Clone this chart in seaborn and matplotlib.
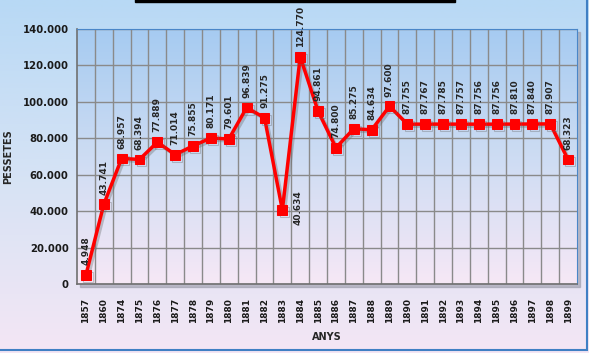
import numpy as np
import matplotlib
matplotlib.use('Agg')
import matplotlib.pyplot as plt
import matplotlib.patheffects as pe
from matplotlib.colors import LinearSegmentedColormap
from matplotlib.patches import Rectangle
from matplotlib.ticker import FuncFormatter, MultipleLocator
import seaborn as sns

anys = ['1857', '1860', '1874', '1875', '1876', '1877', '1878', '1879', '1880',
        '1881', '1882', '1883', '1884', '1885', '1886', '1887', '1888', '1889',
        '1890', '1891', '1892', '1893', '1894', '1895', '1896', '1897', '1898', '1899']
pessetes = [4948, 43741, 68957, 68394, 77889, 71014, 75855, 80171, 79601,
            96839, 91275, 40634, 124770, 94861, 74800, 85275, 84634, 97600,
            87755, 87767, 87785, 87757, 87756, 87756, 87810, 87840, 87907, 68323]

sns.set_style('white')
plt.rcParams['font.family'] = ['DejaVu Sans']


def fmt(v):
    return f'{int(v):,}'.replace(',', '.')


fig = plt.figure(figsize=(5.89, 3.53), dpi=100)

# background gradient of the whole figure
bg = fig.add_axes([0, 0, 1, 1], zorder=-10)
bg_cmap = LinearSegmentedColormap.from_list('bg', ['#b8d9f5', '#d6e3f5', '#f4e6f4'])
bg.imshow(np.linspace(0, 1, 256).reshape(-1, 1), aspect='auto', cmap=bg_cmap,
          extent=[0, 1, 0, 1], origin='upper')
bg.set_axis_off()
bg.add_patch(Rectangle((-0.01, 3 / 353), 587 / 589 + 0.01, 1.02, fill=False,
                       edgecolor='#3f7fc4', linewidth=1.5, transform=bg.transAxes))
bg.add_patch(Rectangle((135 / 589, 351.5 / 353), 320 / 589, 0.02, color='black',
                       transform=bg.transAxes))

left, bottom, w, h = 77 / 589, 69 / 353, 500 / 589, 255 / 353
# plot area shadow
fig.patches.append(Rectangle((left + 3 / 589, bottom - 3 / 353), w, h, color='#9a9aa8',
                             alpha=0.6, transform=fig.transFigure, zorder=-5))
ax = fig.add_axes([left, bottom, w, h])

pa_cmap = LinearSegmentedColormap.from_list('pa', ['#a6cbf1', '#cddcf3', '#f6e8f6'])
ax.imshow(np.linspace(0, 1, 256).reshape(-1, 1), aspect='auto', cmap=pa_cmap,
          extent=[0, 1, 0, 1], origin='upper', transform=ax.transAxes, zorder=0)

x = np.arange(len(anys))
sns.lineplot(x=x, y=pessetes, ax=ax, color='#ff0000', linewidth=2.5, marker='s',
             markersize=7, markeredgecolor='#ff0000', zorder=5, clip_on=False,
             path_effects=[pe.SimpleLineShadow(offset=(1.5, -1.5), shadow_color='#666666', alpha=0.35),
                           pe.Normal()])

for i, v in enumerate(pessetes):
    if anys[i] == '1883':
        ax.annotate(fmt(v), (i, v), xytext=(8, 2), textcoords='offset points',
                    rotation=90, ha='left', va='center', fontsize=6.5, fontweight='bold', zorder=6)
    else:
        ax.annotate(fmt(v), (i, v), xytext=(0, 7), textcoords='offset points',
                    rotation=90, ha='center', va='bottom', fontsize=6.5, fontweight='bold', zorder=6)

ax.set_xlim(-0.5, len(anys) - 0.5)
ax.set_ylim(0, 140000)
ax.set_xticks(x)
ax.set_xticklabels(anys, rotation=90, fontsize=6.5, fontweight='bold')
ax.set_xticks(x[:-1] + 0.5, minor=True)
ax.yaxis.set_major_locator(MultipleLocator(20000))
ax.yaxis.set_major_formatter(FuncFormatter(lambda v, p: fmt(v)))
for lab in ax.get_yticklabels():
    lab.set_fontweight('bold')
    lab.set_fontsize(7.3)

ax.grid(True, which='major', axis='y', color='#8a8a8a', linewidth=1)
ax.grid(True, which='minor', axis='x', color='#8a8a8a', linewidth=1)
ax.set_axisbelow(True)
ax.tick_params(axis='x', which='major', length=0, pad=10)
ax.tick_params(axis='x', which='minor', length=4, color='#707070', width=1, direction='out')
ax.tick_params(axis='y', length=4, color='#707070', width=1, direction='out', pad=2)
ax.tick_params(axis='both', colors='#707070', which='both')
for lab in ax.get_xticklabels() + ax.get_yticklabels():
    lab.set_color('#1a1a1a')

for s in ['left', 'bottom']:
    ax.spines[s].set_color('#707070')
    ax.spines[s].set_linewidth(1.2)
ax.spines['top'].set_color('#4a86c8')
ax.spines['right'].set_color('#4a86c8')

ax.set_xlabel('ANYS', fontsize=7, fontweight='bold')
ax.xaxis.set_label_coords(0.5, -0.19)
ax.set_ylabel('PESSETES', fontsize=7, fontweight='bold')
ax.yaxis.set_label_coords(-0.128, 0.5)

fig.savefig('out.png', dpi=100)
